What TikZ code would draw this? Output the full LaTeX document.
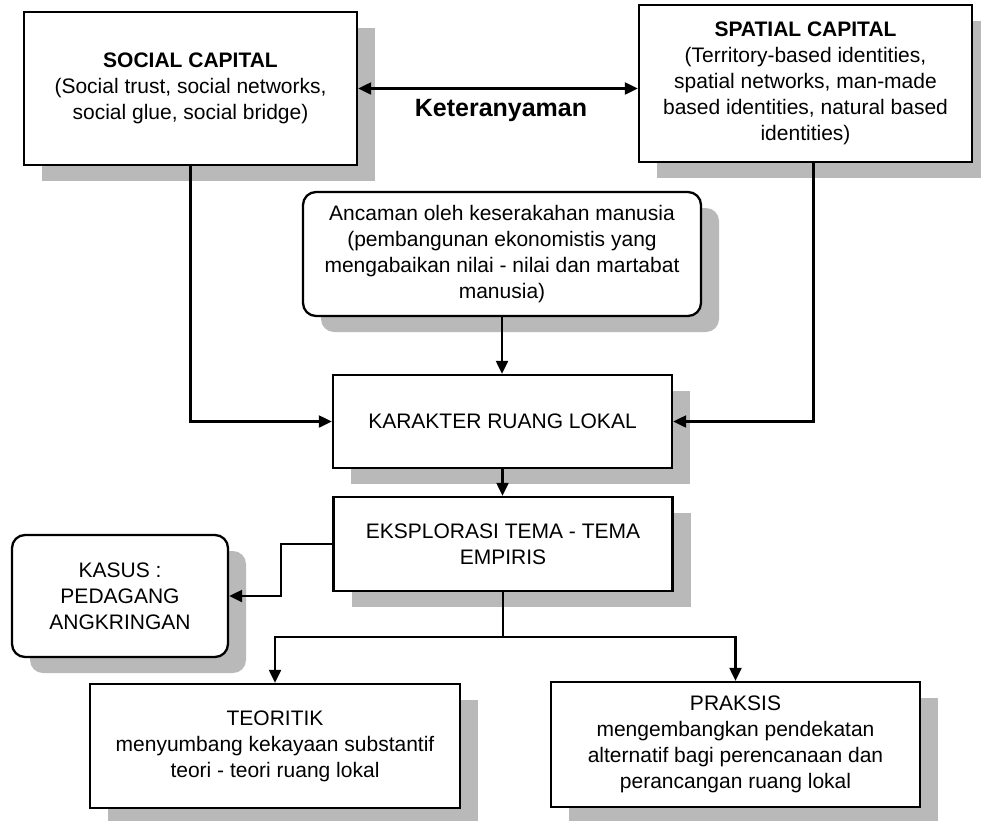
\documentclass[tikz,border=0pt]{standalone}
\usepackage{fontspec}
\setmainfont{Liberation Sans}
\usetikzlibrary{arrows.meta,shadows}

\begin{document}
\begin{tikzpicture}[x=1pt,y=-1pt,
  box/.style={draw, line width=2.3pt, fill=white, align=center, inner sep=0pt,
    font=\fontsize{21}{26}\selectfont,
    drop shadow={shadow xshift=18pt, shadow yshift=-16pt, fill=gray!55, opacity=1}},
  rbox/.style={box, rounded corners=13pt},
  line/.style={line width=2.1pt},
  arr/.style={line, -{Triangle[length=13pt,width=12pt]}}]
  \useasboundingbox (0,0) rectangle (981,820);
  % top row
  \node[box, minimum width=333pt, minimum height=153pt] (social) at (190.5,88.5)
    {\textbf{SOCIAL CAPITAL}\\(Social trust, social networks,\\social glue, social bridge)};
  \node[box, minimum width=333pt, minimum height=157pt] (spatial) at (805.5,83.5)
    {\textbf{SPATIAL CAPITAL}\\(Territory-based identities,\\spatial networks, man-made\\based identities, natural based\\identities)};
  \node[font=\fontsize{25}{30}\selectfont\bfseries] (ket) at (501,110) {Keteranyaman};
  % middle
  \node[rbox, minimum width=398pt, minimum height=124pt] (ancaman) at (502,254)
    {Ancaman oleh keserakahan manusia\\(pembangunan ekonomistis yang\\mengabaikan nilai - nilai dan martabat\\manusia)};
  \node[box, minimum width=339pt, minimum height=93pt] (karakter) at (502.5,421.5)
    {KARAKTER RUANG LOKAL};
  \node[box, minimum width=339pt, minimum height=94pt] (eksplor) at (503,544)
    {EKSPLORASI TEMA - TEMA\\EMPIRIS};
  \node[rbox, minimum width=216pt, minimum height=122pt] (kasus) at (120,596)
    {KASUS :\\PEDAGANG\\ANGKRINGAN};
  % bottom row
  \node[box, minimum width=370pt, minimum height=124pt] (teoritik) at (275,746)
    {TEORITIK\\menyumbang kekayaan substantif\\teori - teori ruang lokal};
  \node[box, minimum width=369pt, minimum height=125pt] (praksis) at (735.5,744.5)
    {PRAKSIS\\mengembangkan pendekatan\\alternatif bagi perencanaan dan\\perancangan ruang lokal};
  % connectors
  \draw[line, {Triangle[length=13pt,width=12pt]}-{Triangle[length=13pt,width=12pt]}]
    (social.east) -- (social.east -| spatial.west);
  \draw[arr] (social.south) |- (karakter.west);
  \draw[arr] ([xshift=8pt]spatial.south) |- (karakter.east);
  \draw[arr] (ancaman.south) -- (ancaman.south |- karakter.north);
  \draw[arr] (karakter.south) -- (karakter.south |- eksplor.north);
  \draw[arr] (eksplor.west) -- ++(-51,0) |- (kasus.east);
  \draw[arr] (eksplor.south) -- ++(0,45) -| (teoritik.north);
  \draw[arr] (eksplor.south) -- ++(0,45) -| (praksis.north);
\end{tikzpicture}
\end{document}
